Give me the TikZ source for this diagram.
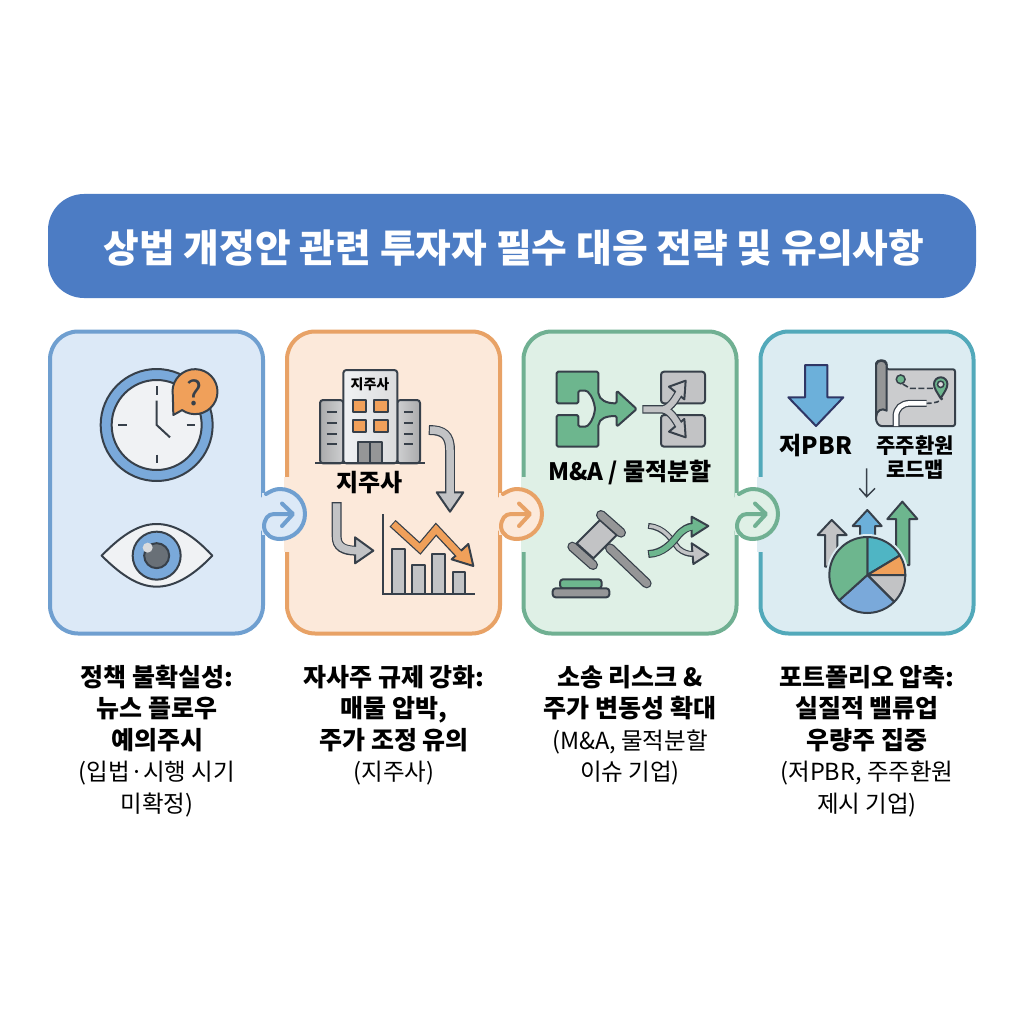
\documentclass[tikz,border=0pt]{standalone}
\usepackage{fontspec}
\setmainfont{Noto Sans CJK KR}
\definecolor{dk}{HTML}{37404A}
\definecolor{titleblue}{HTML}{4C7CC4}
\definecolor{fa}{HTML}{DCE9F7}\definecolor{ba}{HTML}{6F9FD0}
\definecolor{fb}{HTML}{FCE9DA}\definecolor{bb}{HTML}{E8A266}
\definecolor{fc}{HTML}{DFF0E6}\definecolor{bc}{HTML}{70B092}
\definecolor{fd}{HTML}{DCECF2}\definecolor{bd}{HTML}{52A9BA}
\definecolor{org}{HTML}{F0A05A}\definecolor{grn}{HTML}{6DB68E}
\definecolor{gr}{HTML}{C2C3C5}\definecolor{grd}{HTML}{959697}
\definecolor{blu}{HTML}{7AA9DA}\definecolor{sky}{HTML}{6CB0DA}
\definecolor{tl}{HTML}{4FB5C4}\definecolor{face}{HTML}{F0F2F4}
\tikzset{
 cardbox/.style={rounded corners=28pt,line width=4pt,minimum width=213pt,minimum height=302pt,inner sep=0pt},
 ln/.style={draw=dk,line width=2pt,line join=round},
 captext/.style={align=center,anchor=north,inner sep=0pt,font=\fontsize{25}{31.5}\selectfont,text=black},
 icontext/.style={inner sep=0pt,font=\bfseries,text=black},
 z1/.style={shift={(40,320)},x=.33333pt,y=-.33333pt},
 z2/.style={shift={(280,320)},x=.33333pt,y=-.33333pt},
 z3/.style={shift={(515,320)},x=.33333pt,y=-.33333pt},
 z4/.style={shift={(750,320)},x=.33333pt,y=-.33333pt},
}
\newcommand{\reg}[1]{{\fontsize{23.5}{31.5}\selectfont #1}}
\newcommand{\tube}[4]{%
 \draw[dk,line width=#1pt+2.4pt,shorten <=-1.2pt] #3;
 \filldraw[ln,fill=#2] #4 -- cycle;
 \draw[#2,line width=#1pt,shorten >=-3pt] #3;}
\newcommand{\bubble}[4]{% right edge x, own border, own fill, next fill
 \begin{scope}[shift={(#1,0)}]
 \fill[#4] (19,477) rectangle (26,552);
 \fill[#3] (15,514) circle[radius=25pt];
 \fill[#3] (-3,493) rectangle (15,535);
 \draw[#2,line width=4pt,line cap=round,line join=round]
  (1,494) .. controls (6,491) and (10,489) .. (15,489)
  arc[start angle=90,end angle=-90,radius=25pt]
  .. controls (7,539) and (0,535) .. (-1,527)
  .. controls (-1,519) and (3,514) .. (9,514) -- (27,514)
  (17,503.5) -- (28,514) -- (17,526);
 \end{scope}}
\begin{document}
\begin{tikzpicture}[x=1pt,y=-1pt]
\useasboundingbox (0,0) rectangle (1024,1024);
\fill[white] (0,0) rectangle (1024,1024);
\node[fill=titleblue,rounded corners=36pt,minimum width=928pt,minimum height=104pt,inner sep=0pt] (bar) at (512,246) {};
\node[inner sep=0pt,text=white,font=\fontsize{38.8}{44}\selectfont\bfseries] (title) at (514,248) {상법 개정안 관련 투자자 필수 대응 전략 및 유의사항};
\node[cardbox,draw=ba,fill=fa] (c1) at (156.5,482.5) {};
\node[cardbox,draw=bb,fill=fb] (c2) at (393.5,482.5) {};
\node[cardbox,draw=bc,fill=fc] (c3) at (630,482.5) {};
\node[cardbox,draw=bd,fill=fd] (c4) at (867,482.5) {};
\bubble{265}{ba}{fa}{fb}
\bubble{502}{bb}{fb}{fc}
\bubble{738}{bc}{fc}{fd}
% ---------- card 1
\begin{scope}[z1]
 \filldraw[ln,fill=blu] (350,315) circle[radius=56pt];
 \filldraw[ln,fill=face] (350,315) circle[radius=45pt];
 \draw[dk,line width=2pt] (350,198)--(350,226) (350,404)--(350,430) (235,315)--(260,315) (440,315)--(466,315);
 \draw[dk,line width=2pt] (350,242)--(350,315)--(390,352);
 \filldraw[ln,fill=org] (400,285) -- (398.5,226.7) arc[start angle=190,end angle=-125,radius=22.5pt] -- cycle;
 \node[inner sep=0pt,text=dk,font=\fontsize{34}{36}\selectfont] (q) at (465,218) {?};
 \filldraw[ln,fill=face] (185,707) .. controls (250,640) and (300,612) .. (350,612) .. controls (400,612) and (455,640) .. (517,707) .. controls (455,772) and (400,800) .. (350,800) .. controls (300,800) and (250,772) .. (185,707) -- cycle;
 \filldraw[ln,fill=blu] (350,707) circle[radius=24pt];
 \filldraw[ln,fill=dk!75] (350,707) circle[radius=12.5pt];
 \fill[face!80!gray] (323,683) circle[radius=5pt];
\end{scope}
% ---------- card 2
\begin{scope}[z2]
 \filldraw[ln,left color=grd!80,right color=gr!80,rounded corners=3pt] (120,430) -- (120,240) -- (190,240) -- (190,430) -- cycle;
 \filldraw[ln,left color=gr!80,right color=grd!80,rounded corners=3pt] (352,430) -- (352,240) -- (420,240) -- (420,430) -- cycle;
 \filldraw[ln,left color=face,right color=gr!60,rounded corners=3pt] (190,430) -- (190,150) -- (352,150) -- (352,430) -- cycle;
 \foreach \xx in {218,283} \foreach \yy in {240,300} \filldraw[ln,fill=org] (\xx,\yy) rectangle ++(40,35);
 \filldraw[ln,fill=grd] (235,365) rectangle (305,430);
 \draw[dk,line width=1.5pt] (270,365) -- (270,430);
 \draw[dk,line width=1.8pt] (140,275)--(170,275) (140,310)--(170,310) (140,342)--(170,342) (140,373)--(170,373)
   (372,275)--(398,275) (372,310)--(398,310) (372,342)--(398,342) (372,373)--(398,373);
 \draw[dk,line width=2pt] (105,430) -- (435,430);
 \node[icontext,font=\fontsize{14}{16}\selectfont\bfseries] (hq) at (270,194) {지주사};
 \node[icontext,font=\fontsize{24}{28}\selectfont\bfseries] (hqb) at (268,488) {지주사};
 \tube{7.5}{gr}{(450,330) .. controls (490,330) and (510,345) .. (510,390) -- (510,518)}{(470,517) -- (550,517) -- (510,575)}
 \tube{7.5}{gr}{(170,550) -- (170,650) .. controls (170,680) and (190,692) .. (228,692)}{(225,652) -- (280,692) -- (225,730)}
 \filldraw[ln,fill=gr] (337,687) rectangle (375,822);
 \filldraw[ln,fill=gr] (397,735) rectangle (435,822);
 \filldraw[ln,fill=gr] (457,703) rectangle (495,822);
 \filldraw[ln,fill=gr] (518,757) rectangle (555,822);
 \draw[dk,line width=2pt] (310,583) -- (310,822) -- (585,822);
 \draw[dk,line width=9pt,line join=miter,shorten <=-1pt] (340,612) -- (420,685) -- (468,628) -- (540,705);
 \filldraw[ln,fill=org] (565,672) -- (580,738) -- (515,718) -- cycle;
 \draw[org,line width=6.5pt,line join=miter] (340,612) -- (420,685) -- (468,628) -- (548,713);
\end{scope}
% ---------- card 3
\begin{scope}[z3]
 \filldraw[ln,fill=grn,rounded corners=1.5pt] (125,155) -- (250,155) -- (250,215) .. controls (252,240) and (275,250) .. (305,250) -- (305,212) -- (365,267) -- (305,320) -- (305,288) .. controls (275,288) and (252,295) .. (250,320) -- (250,380) -- (125,380) -- (125,285) -- (190,285) -- (190,320) -- (215,320) .. controls (235,300) and (238,280) .. (240,267) .. controls (238,250) and (232,228) .. (215,212) -- (190,212) -- (190,250) -- (125,250) -- cycle;
 \filldraw[ln,fill=gr,rounded corners=3pt] (438,155) rectangle (570,250);
 \filldraw[ln,fill=gr,rounded corners=3pt] (438,285) rectangle (570,380);
 \draw[dk,line width=8.5pt,shorten <=-1pt] (385,268) -- (445,268) .. controls (470,262) and (485,230) .. (497,210);
 \draw[dk,line width=8.5pt] (445,268) .. controls (470,274) and (485,305) .. (497,325);
 \filldraw[ln,fill=gr] (512,182) -- (462,200) -- (508,238) -- cycle;
 \filldraw[ln,fill=gr] (512,352) -- (462,335) -- (508,297) -- cycle;
 \draw[gr,line width=6pt] (385,268) -- (445,268) .. controls (470,262) and (485,230) .. (500,205);
 \draw[gr,line width=6pt] (445,268) .. controls (470,274) and (485,305) .. (500,330);
 \node[icontext,font=\fontsize{24}{28}\selectfont\bfseries] (ma) at (345,459) {M\&A / 물적분할};
 % gavel
 \draw[dk,line width=10pt,line cap=round] (285,685) -- (395,790);
 \draw[grd,line width=7.5pt,line cap=round] (285,685) -- (395,790);
 \filldraw[ln,fill=gr] (255,600) -- (305,645) -- (235,715) -- (185,670) -- cycle;
 \draw[dk,line width=10pt,line cap=round] (258,585) -- (318,638);
 \draw[grd,line width=7.5pt,line cap=round] (258,585) -- (318,638);
 \draw[dk,line width=10pt,line cap=round] (172,680) -- (234,735);
 \draw[grd,line width=7.5pt,line cap=round] (172,680) -- (234,735);
 \filldraw[ln,fill=grn,rounded corners=3pt] (135,805) -- (135,778) -- (260,778) -- (260,805) -- cycle;
 \filldraw[ln,fill=grd,rounded corners=3pt] (113,832) -- (113,805) -- (283,805) -- (283,832) -- cycle;
 % crossing arrows
 \tube{3.5}{gr}{(403,618) .. controls (450,622) and (470,660) .. (490,685) .. controls (505,698) and (520,702) .. (532,702)}{(530,670) -- (580,703) -- (535,732)}
 \tube{5.5}{grn}{(403,702) .. controls (445,700) and (470,670) .. (490,645) .. controls (505,628) and (520,620) .. (532,620)}{(530,590) -- (580,618) -- (530,650)}
\end{scope}
% ---------- card 4
\begin{scope}[z4]
 \filldraw[ln,draw=dk!85!blue,fill=sky] (165,135) -- (232,135) -- (232,232) -- (280,232) -- (198,318) -- (115,232) -- (165,232) -- cycle;
 \node[icontext,font=\fontsize{24}{28}\selectfont\bfseries] (pbr) at (198,378) {저PBR};
 \node[icontext,align=center,font=\fontsize{21}{24}\selectfont\bfseries] (road) at (495,412) {주주환원\\로드맵};
 % map
 \filldraw[ln,fill=gr!85,rounded corners=2pt] (410,148) -- (615,148) -- (615,318) -- (400,318) .. controls (385,318) and (378,305) .. (378,290) -- (378,135) .. controls (380,118) and (408,118) .. (410,135) -- cycle;
 \filldraw[ln,fill=grd] (378,290) -- (378,135) .. controls (380,118) and (408,118) .. (410,135) -- (410,272) .. controls (395,262) and (380,272) .. (378,290) -- cycle;
 \draw[dk,line width=7pt] (438,318) -- (438,290) .. controls (438,265) and (455,250) .. (480,250) -- (530,250);
 \draw[white,line width=4.5pt] (438,318) -- (438,290) .. controls (438,265) and (455,250) .. (480,250) -- (530,250);
 \draw[dk,line width=1.6pt,dash pattern=on 5pt off 2.5pt] (530,250) .. controls (555,250) and (570,245) .. (578,235);
 \draw[dk,line width=1.6pt,dash pattern=on 6pt off 2.5pt] (458,192) -- (480,205) -- (552,205);
 \filldraw[ln,fill=grn] (572,235) .. controls (560,215) and (552,205) .. (552,192) arc[start angle=180,end angle=0,radius=6.7pt] .. controls (592,205) and (584,215) .. (572,235) -- cycle;
 \filldraw[draw=dk,line width=1.5pt,fill=gr!60] (572,193) circle[radius=3.2pt];
 \filldraw[draw=dk,line width=1.5pt,fill=grn] (452,178) circle[radius=4.4pt];
 % thin arrow
 \draw[dk,line width=1.5pt] (350,445) -- (350,530) (328,505) -- (350,530) -- (375,505);
 % up arrows
 \filldraw[ln,fill=gr] (245,600) -- (290,645) -- (262,645) -- (262,740) -- (225,740) -- (225,645) -- (203,645) -- cycle;
 \filldraw[ln,fill=sky] (352,570) -- (395,618) -- (375,618) -- (375,660) -- (330,660) -- (330,618) -- (308,618) -- cycle;
 \filldraw[ln,fill=grn] (457,545) -- (502,597) -- (478,597) -- (478,735) -- (438,735) -- (438,597) -- (412,597) -- cycle;
 % pie
 \fill[fd] (352,765) circle[radius=41pt];
 \coordinate (pc) at (352,765);
 \filldraw[ln,fill=tl] (pc) -- ++(90:38pt) arc[start angle=90,end angle=31,radius=38pt] -- cycle;
 \filldraw[ln,fill=org] (pc) -- ++(31:38pt) arc[start angle=31,end angle=0,radius=38pt] -- cycle;
 \filldraw[ln,fill=gr] (pc) -- ++(0:38pt) arc[start angle=0,end angle=-45,radius=38pt] -- cycle;
 \filldraw[ln,fill=blu] (pc) -- ++(-45:38pt) arc[start angle=-45,end angle=-138,radius=38pt] -- cycle;
 \filldraw[ln,fill=grn] (pc) -- ++(-138:38pt) arc[start angle=-138,end angle=-270,radius=38pt] -- cycle;
\end{scope}
% ---------- captions
\node[captext] (t1) at (157,665) {\bfseries 정책 불확실성:\\\bfseries 뉴스 플로우\\\bfseries 예의주시\\\reg{(입법·시행 시기}\\\reg{미확정)}};
\node[captext] (t2) at (394,665) {\bfseries 자사주 규제 강화:\\\bfseries 매물 압박,\\\bfseries 주가 조정 유의\\\reg{(지주사)}};
\node[captext] (t3) at (630,665) {\bfseries 소송 리스크 \&\\\bfseries 주가 변동성 확대\\\reg{(M\&A, 물적분할}\\\reg{이슈 기업)}};
\node[captext] (t4) at (867,665) {\bfseries 포트폴리오 압축:\\\bfseries 실질적 밸류업\\\bfseries 우량주 집중\\\reg{(저PBR, 주주환원}\\\reg{제시 기업)}};
\end{tikzpicture}
\end{document}
